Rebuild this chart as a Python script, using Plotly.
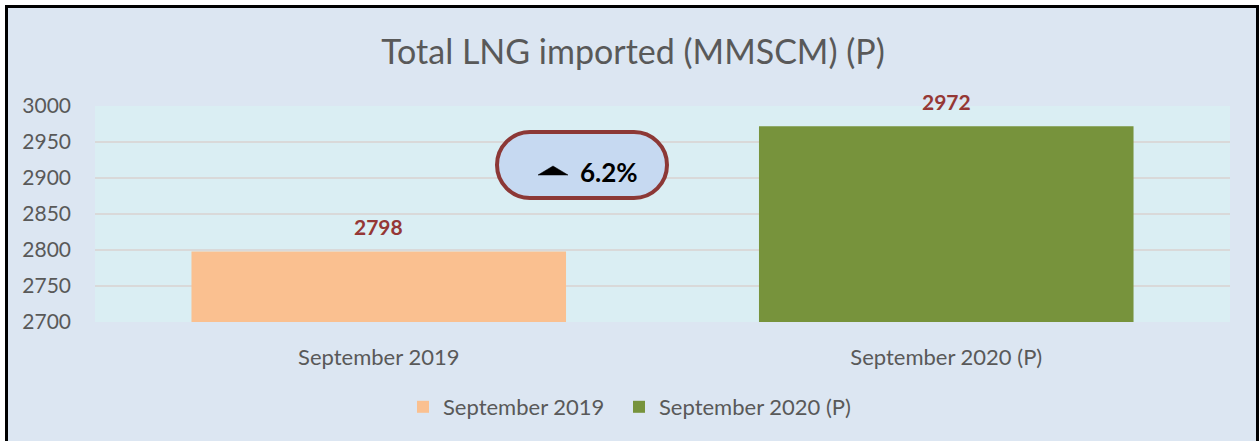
import plotly.graph_objects as go

categories = ["September 2019", "September 2020 (P)"]
values = [2798, 2972]
colors = ["#FAC090", "#77933C"]
y_ticks = [2700, 2750, 2800, 2850, 2900, 2950, 3000]
change_text = "6.2%"
title_text = "Total LNG imported (MMSCM) (P)"

W, H = 1260, 441
ML, MR, MT, MB = 95, 30, 106, 119
PW = W - ML - MR
PH = H - MT - MB


def px(x):
    return (x - ML) / PW


def py(y):
    return (H - MB - y) / PH


FONT = "Lato"
GRAY = "#595959"
RED = "#953735"

legend_names = ["legend", "legend2"]
legend_left = [403, 619]

fig = go.Figure()
for cat, val, col, lg in zip(categories, values, colors, legend_names):
    fig.add_trace(go.Bar(x=[cat], y=[val], name=cat, marker_color=col,
                         marker_line_width=0, legend=lg, showlegend=True))

for cat, val in zip(categories, values):
    fig.add_annotation(x=cat, y=val, text=f"<b>{val}</b>", showarrow=False,
                       yshift=25, font=dict(family=FONT, size=21, color=RED))

# pill box
x0, x1, y0, y1 = 497, 667, 132, 198
r = (y1 - y0) / 2
k = 0.5523 * r
path = (
    f"M {px(x0 + r)},{py(y0)} L {px(x1 - r)},{py(y0)} "
    f"C {px(x1 - r + k)},{py(y0)} {px(x1)},{py(y0 + r - k)} {px(x1)},{py(y0 + r)} "
    f"C {px(x1)},{py(y0 + r + k)} {px(x1 - r + k)},{py(y1)} {px(x1 - r)},{py(y1)} "
    f"L {px(x0 + r)},{py(y1)} "
    f"C {px(x0 + r - k)},{py(y1)} {px(x0)},{py(y0 + r + k)} {px(x0)},{py(y0 + r)} "
    f"C {px(x0)},{py(y0 + r - k)} {px(x0 + r - k)},{py(y0)} {px(x0 + r)},{py(y0)} Z"
)
fig.add_shape(type="path", path=path, xref="paper", yref="paper",
              fillcolor="#C6D9F1", line=dict(color="#8C3836", width=4), layer="above")
tri = f"M {px(538)},{py(175)} L {px(568)},{py(175)} L {px(553)},{py(166)} Z"
fig.add_shape(type="path", path=tri, xref="paper", yref="paper",
              fillcolor="black", line=dict(color="black", width=0.5), layer="above")
fig.add_annotation(x=px(578), y=py(172), xref="paper", yref="paper",
                   xanchor="left", yanchor="middle", showarrow=False,
                   text=f"<b>{change_text}</b>",
                   font=dict(family=FONT, size=26, color="black"))

# outer white margin and black border
for (a, b, c, d) in [(0, 0, 5, H), (0, 0, W, 5), (1259, 0, W, H)]:
    fig.add_shape(type="rect", xref="paper", yref="paper",
                  x0=px(a), x1=px(c), y0=py(b), y1=py(d),
                  fillcolor="white", line=dict(width=0), layer="above")
fig.add_shape(type="path", xref="paper", yref="paper",
              path=f"M {px(6.5)},{py(H + 5)} L {px(6.5)},{py(6.5)} L {px(1257.5)},{py(6.5)} L {px(1257.5)},{py(H + 5)}",
              line=dict(color="black", width=3), layer="above")

legend_style = dict(orientation="h", xanchor="left", y=py(407), yanchor="middle",
                    font=dict(family=FONT, size=22, color=GRAY),
                    bgcolor="rgba(0,0,0,0)", visible=True)

fig.update_layout(
    width=W, height=H,
    showlegend=True,
    margin=dict(l=ML, r=MR, t=MT, b=MB),
    paper_bgcolor="#DCE6F2",
    plot_bgcolor="#DAEEF3",
    barmode="overlay",
    bargap=0.34,
    title=dict(text=title_text, x=633 / W, xref="container", xanchor="center",
               y=1 - 52 / H, yref="container", yanchor="middle",
               font=dict(family=FONT, size=34, color=GRAY)),
    legend=dict(x=px(legend_left[0]), **legend_style),
    legend2=dict(x=px(legend_left[1]), **legend_style),
    font=dict(family=FONT, color=GRAY),
)
fig.update_yaxes(range=[2700, 3000], tickvals=y_ticks, showgrid=True,
                 gridcolor="#D9D9D9", gridwidth=2, zeroline=False,
                 tickfont=dict(family=FONT, size=21, color=GRAY),
                 ticklabelstandoff=23, showline=False)
fig.update_xaxes(tickfont=dict(family=FONT, size=22, color=GRAY),
                 ticklabelstandoff=20, showline=False, showgrid=False)

fig.write_html("out.html")
